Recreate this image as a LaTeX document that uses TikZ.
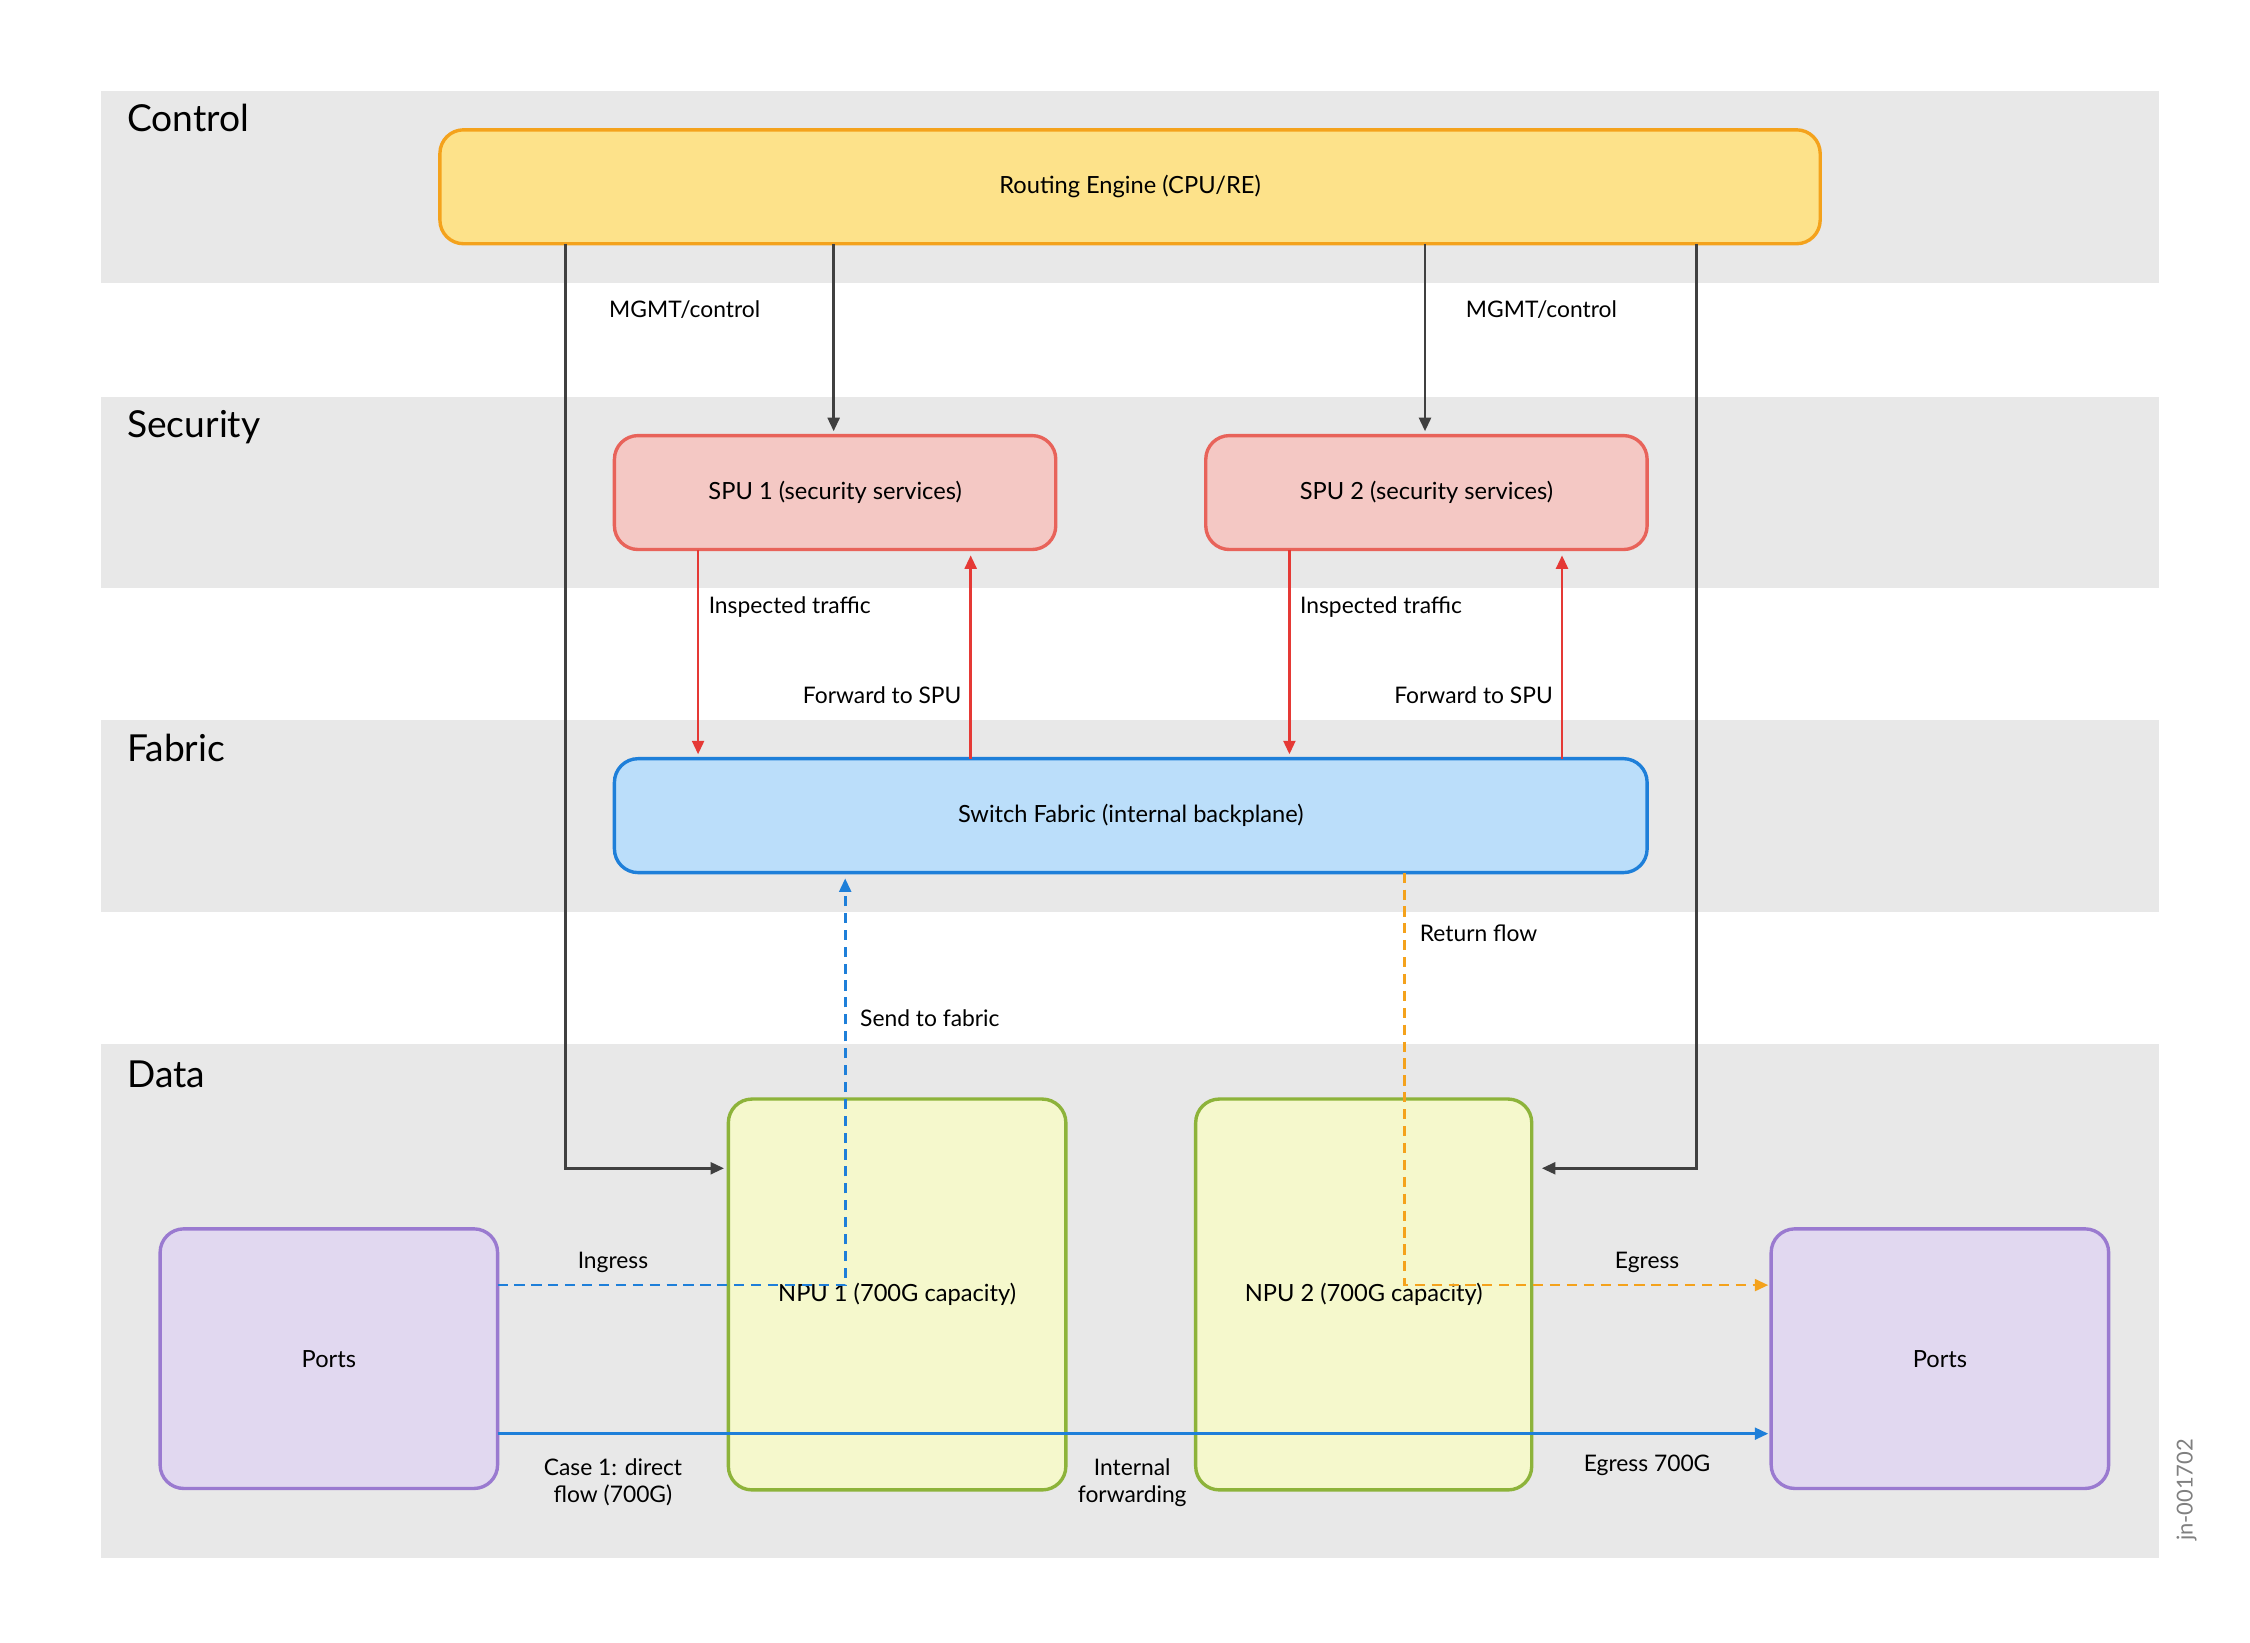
\documentclass[tikz,border=0pt]{standalone}
\usepackage{fontspec}
\setmainfont{Lato}
\usetikzlibrary{arrows.meta}
\definecolor{band}{HTML}{E8E8E8}
\definecolor{refill}{HTML}{FDE28A}\definecolor{redraw}{HTML}{F4A21C}
\definecolor{spufill}{HTML}{F4C8C4}\definecolor{spudraw}{HTML}{E8635A}
\definecolor{swfill}{HTML}{BBDEFA}\definecolor{swdraw}{HTML}{1E7FD9}
\definecolor{npufill}{HTML}{F5F8CC}\definecolor{npudraw}{HTML}{8DB33A}
\definecolor{pfill}{HTML}{E1D8F0}\definecolor{pdraw}{HTML}{9A7AD0}
\definecolor{ared}{HTML}{E53935}\definecolor{ablue}{HTML}{1E7FD9}\definecolor{aorange}{HTML}{F4A21C}
\definecolor{agray}{HTML}{404040}
\begin{document}
\begin{tikzpicture}[x=0.03cm,y=-0.03cm,
 box/.style={rounded corners=14pt,line width=2pt,inner sep=0pt,font=\fontsize{14}{16}\selectfont},
 lbl/.style={font=\fontsize{13.5}{16}\selectfont,align=center,inner sep=1pt},
 title/.style={font=\fontsize{22}{26}\selectfont,anchor=north west,inner sep=0pt},
 arr/.style={line width=1.6pt,-{Triangle[length=8pt,width=7pt]}},
 dsh/.style={dashed,dash pattern=on 6pt off 4pt}]
\useasboundingbox (0,0) rectangle (1560,1139);
\fill[white] (0,0) rectangle (1560,1139);
\foreach \a/\b in {63/196,275/408,499/632,724/1080}{\fill[band] (70,\a) rectangle (1497,\b);}
\node[title] (tc) at (88,72) {Control};
\node[title] (ts) at (88,284) {Security};
\node[title] (tf) at (88,509) {Fabric};
\node[title] (td) at (88,735) {Data};
\node[box,fill=refill,draw=redraw,minimum width=957*0.03cm,minimum height=79*0.03cm] (re) at (783.5,129.5) {Routing Engine (CPU/RE)};
\node[box,fill=spufill,draw=spudraw,minimum width=306*0.03cm,minimum height=79*0.03cm] (spu1) at (579,341.5) {SPU 1 (security services)};
\node[box,fill=spufill,draw=spudraw,minimum width=306*0.03cm,minimum height=79*0.03cm] (spu2) at (989,341.5) {SPU 2 (security services)};
\node[box,fill=swfill,draw=swdraw,minimum width=716*0.03cm,minimum height=79*0.03cm] (sw) at (784,565.5) {Switch Fabric (internal backplane)};
\node[box,fill=npufill,draw=npudraw,minimum width=234*0.03cm,minimum height=271*0.03cm] (npu1) at (622,897.5) {NPU 1 (700G capacity)};
\node[box,fill=npufill,draw=npudraw,minimum width=233*0.03cm,minimum height=271*0.03cm] (npu2) at (945.5,897.5) {NPU 2 (700G capacity)};
\node[box,fill=pfill,draw=pdraw,minimum width=234*0.03cm,minimum height=180*0.03cm] (p1) at (228,942) {Ports};
\node[box,fill=pfill,draw=pdraw,minimum width=234*0.03cm,minimum height=180*0.03cm] (p2) at (1345,942) {Ports};
% coordinates
\coordinate (c1) at (392,169); \coordinate (c1e) at (502,810);
\coordinate (c2) at (578,169); \coordinate (c2e) at (578,299);
\coordinate (c3) at (988,169); \coordinate (c3e) at (988,299);
\coordinate (c4) at (1176,169); \coordinate (c4e) at (1069,810);
\draw[arr,agray] (c1) |- (c1e);
\draw[arr,agray] (c2) -- (c2e);
\draw[arr,agray] (c3) -- (c3e);
\draw[arr,agray] (c4) |- (c4e);
\coordinate (r1) at (484,381); \coordinate (r1e) at (484,523);
\coordinate (r2) at (673,526); \coordinate (r2e) at (673,385);
\coordinate (r3) at (894,381); \coordinate (r3e) at (894,523);
\coordinate (r4) at (1083,526); \coordinate (r4e) at (1083,385);
\draw[arr,ared] (r1)--(r1e); \draw[arr,ared] (r2)--(r2e);
\draw[arr,ared] (r3)--(r3e); \draw[arr,ared] (r4)--(r4e);
\coordinate (b1) at (345,891); \coordinate (b1e) at (586,609);
\draw[arr,ablue,dsh] (b1) -| (b1e);
\coordinate (o1) at (974,605); \coordinate (o1e) at (1226,891);
\draw[arr,aorange,dsh] (o1) |- (o1e);
\coordinate (d1) at (345,994); \coordinate (d1e) at (1226,994);
\draw[arr,ablue] (d1) -- (d1e);
% labels
\node[lbl,anchor=west] (l1) at (421,215) {MGMT/control};
\node[lbl,anchor=west] (l2) at (1015,215) {MGMT/control};
\node[lbl,anchor=west] (l3) at (490,421) {Inspected traffic};
\node[lbl,anchor=west] (l4) at (900,421) {Inspected traffic};
\node[lbl,anchor=east] (l5) at (668,482) {Forward to SPU};
\node[lbl,anchor=east] (l6) at (1078,482) {Forward to SPU};
\node[lbl,anchor=west] (l7) at (983,647) {Return flow};
\node[lbl,anchor=west] (l8) at (595,706) {Send to fabric};
\node[lbl] (l9) at (425,875) {Ingress};
\node[lbl] (l10) at (1142,875) {Egress};
\node[lbl] (l11) at (425,1028) {Case 1: direct\\flow (700G)};
\node[lbl] (l12) at (785,1028) {Internal\\forwarding};
\node[lbl] (l13) at (1142,1016) {Egress 700G};
\node[lbl,rotate=90,text=gray,font=\fontsize{13}{15}\selectfont] (jn) at (1516,1033) {jn-001702};
\end{tikzpicture}
\end{document}
